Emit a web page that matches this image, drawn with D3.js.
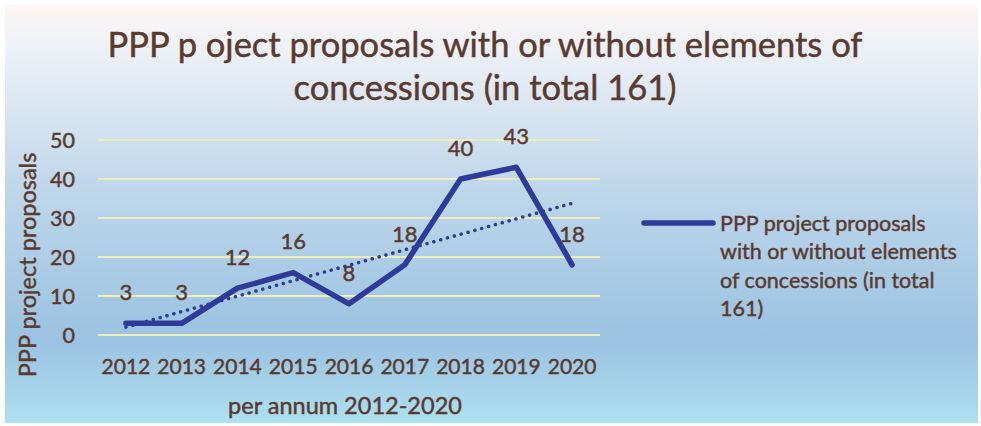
<!DOCTYPE html>
<html>
<head>
<meta charset="utf-8">
<title>PPP project proposals</title>
<script src="https://d3js.org/d3.v7.min.js"></script>
<style>
    body { margin: 0; background: #fff; }
    svg text { font-family: Lato, "Open Sans", sans-serif; fill: #5a3a2e; stroke: #5a3a2e; stroke-width: 0.45px; }
    .grid line { stroke: #eeeeb8; stroke-width: 2px; }
</style>
</head>
<body>
<div id="chart"></div>
<script>
    // data
    let years = ["2012", "2013", "2014", "2015", "2016", "2017", "2018", "2019", "2020"];
    let proposals = [3, 3, 12, 16, 8, 18, 40, 43, 18];
    let yTicks = [0, 10, 20, 30, 40, 50];
    let titleLines = ["PPP p oject proposals with or without elements of", "concessions (in total 161)"];
    let legendLines = ["PPP project proposals", "with or without elements", "of concessions (in total", "161)"];

    let W = 981, H = 426;
    let svg = d3.select("#chart").append("svg").attr("width", W).attr("height", H);

    let grad = svg.append("defs").append("linearGradient")
        .attr("id", "bg").attr("x1", 0).attr("y1", 0).attr("x2", 0).attr("y2", 1);
    [[0, "#fdf6f4"], [0.1, "#eef1f7"], [0.45, "#bdd6ea"], [0.8, "#9bc2e1"], [1, "#ade0f0"]].forEach(function(s) {
        grad.append("stop").attr("offset", s[0]).attr("stop-color", s[1]);
    });
    svg.append("rect").attr("x", 5).attr("y", 5).attr("width", W - 8).attr("height", H - 8)
        .attr("fill", "url(#bg)");

    let x = d3.scaleBand().domain(years).range([98, 600]);
    let y = d3.scaleLinear().domain([0, 50]).range([335, 140]);
    let cx = function(d) { return x(d) + x.bandwidth() / 2; };

    // title
    svg.append("g").selectAll("text").data(titleLines).enter().append("text")
        .attr("x", 485).attr("y", function(d, i) { return 57 + i * 43; })
        .attr("text-anchor", "middle")
        .style("font-size", "34.5px")
        .text(function(d) { return d; });

    // gridlines
    svg.append("g").attr("class", "grid").selectAll("line").data(yTicks).enter().append("line")
        .attr("x1", 98).attr("x2", 600)
        .attr("y1", function(d) { return y(d); }).attr("y2", function(d) { return y(d); });

    // y tick labels
    svg.append("g").selectAll("text").data(yTicks).enter().append("text")
        .attr("x", 75).attr("y", function(d) { return y(d); })
        .attr("dy", "0.35em").attr("text-anchor", "end")
        .style("font-size", "21.5px")
        .text(function(d) { return d; });

    // x tick labels
    svg.append("g").selectAll("text").data(years).enter().append("text")
        .attr("x", cx).attr("y", 367)
        .attr("dy", "0.35em")
        .attr("text-anchor", "middle")
        .style("font-size", "21px")
        .text(function(d) { return d; });

    // axis titles
    svg.append("text").attr("x", 345).attr("y", 414).attr("text-anchor", "middle")
        .style("font-size", "23.5px").text("per annum 2012-2020");
    svg.append("text").attr("transform", "translate(36,265) rotate(-90)").attr("text-anchor", "middle")
        .style("font-size", "23.5px").text("PPP project proposals");

    // linear trendline
    let n = proposals.length;
    let mx = d3.mean(d3.range(n)), my = d3.mean(proposals);
    let slope = d3.sum(proposals, function(v, i) { return (i - mx) * (v - my); }) /
                d3.sum(d3.range(n), function(i) { return (i - mx) * (i - mx); });
    let icpt = my - slope * mx;
    svg.append("line")
        .attr("x1", cx(years[0])).attr("y1", y(icpt))
        .attr("x2", cx(years[n - 1])).attr("y2", y(icpt + slope * (n - 1)))
        .attr("stroke", "#2f3b9b").attr("stroke-width", 3.5)
        .attr("stroke-linecap", "round").attr("stroke-dasharray", "0.1,7");

    // main series
    let line = d3.line().x(function(d, i) { return cx(years[i]); }).y(function(d) { return y(d); });
    svg.append("path").datum(proposals)
        .attr("d", line).attr("fill", "none")
        .attr("stroke", "#2f3b9b").attr("stroke-width", 5.5)
        .attr("stroke-linejoin", "round").attr("stroke-linecap", "round");

    // data labels
    svg.append("g").selectAll("text").data(proposals).enter().append("text")
        .attr("x", function(d, i) { return cx(years[i]); })
        .attr("y", function(d) { return y(d) - 31; })
        .attr("dy", "0.35em").attr("text-anchor", "middle")
        .style("font-size", "22px")
        .text(function(d) { return d; });

    // legend
    svg.append("line").attr("x1", 644).attr("x2", 713).attr("y1", 223).attr("y2", 223)
        .attr("stroke", "#2f3b9b").attr("stroke-width", 5.5).attr("stroke-linecap", "round");
    svg.append("g").selectAll("text").data(legendLines).enter().append("text")
        .attr("x", 720).attr("y", function(d, i) { return 223 + i * 28.5; })
        .attr("dy", "0.35em")
        .style("font-size", "21.5px")
        .text(function(d) { return d; });
</script>
</body>
</html>
